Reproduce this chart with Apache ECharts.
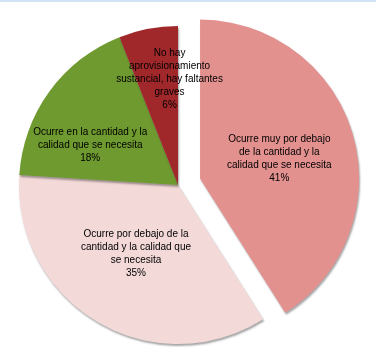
<!DOCTYPE html>
<html>
<head>
<meta charset="utf-8">
<script src="https://cdn.jsdelivr.net/npm/echarts@6/dist/echarts.min.js"></script>
<style>html,body{margin:0;padding:0;background:#fff}#c{width:376px;height:360px}</style>
</head>
<body>
<div id="c"></div>
<script>
const categories = [
  'Ocurre muy por debajo\nde la cantidad y la\ncalidad que se necesita',
  'Ocurre por debajo de la\ncantidad y la calidad que\nse necesita',
  'Ocurre en la cantidad y la\ncalidad que se necesita',
  'No hay\naprovisionamiento\nsustancial, hay faltantes\ngraves'
];
const values = [41, 35, 18, 6];
const colors = ['#e3918f', '#f4d9d9', '#6e9a2f', '#a0282a'];
const labelShift = [[0, 3], [0, -2], [-21, 9], [7, -25]];

const chart = echarts.init(document.getElementById('c'));
chart.setOption({
  animation: false,
  graphic: [{type: 'rect', shape: {x: 0, y: 0, width: 376, height: 2}, style: {fill: '#d3e3f7'}}],
  series: [{
    type: 'pie',
    center: [178, 185],
    radius: [0, 159],
    startAngle: 90,
    clockwise: true,
    selectedMode: 'single',
    selectedOffset: 23,
    avoidLabelOverlap: false,
    label: {
      show: true,
      position: 'inside',
      formatter: p => p.name + '\n' + p.value + '%',
      fontFamily: 'Liberation Sans',
      fontSize: 10,
      lineHeight: 13,
      color: '#000',
      align: 'center'
    },
    labelLine: {show: false},
    labelLayout: p => ({dx: labelShift[p.dataIndex][0], dy: labelShift[p.dataIndex][1]}),
    itemStyle: {
      borderWidth: 0,
      shadowColor: 'rgba(0,0,0,0.35)',
      shadowBlur: 2,
      shadowOffsetX: 1,
      shadowOffsetY: 2
    },
    emphasis: {disabled: true},
    data: values.map((v, i) => ({
      name: categories[i],
      value: v,
      selected: i === 0,
      itemStyle: {color: colors[i]}
    }))
  }]
});
</script>
</body>
</html>
